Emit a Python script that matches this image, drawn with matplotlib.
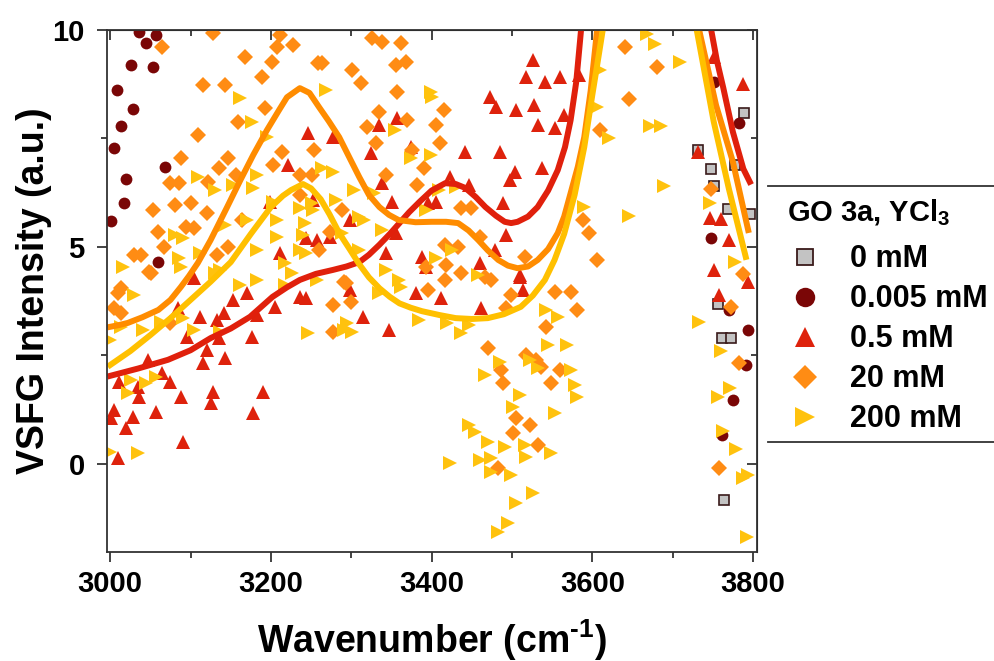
import matplotlib
matplotlib.use("Agg")
import matplotlib.pyplot as plt
from matplotlib.lines import Line2D

plt.rcParams["font.family"] = ["Liberation Sans", "DejaVu Sans"]
plt.rcParams["font.weight"] = "bold"
plt.rcParams["mathtext.fontset"] = "custom"
plt.rcParams["mathtext.rm"] = "Liberation Sans:bold"
plt.rcParams["mathtext.bf"] = "Liberation Sans:bold"

# ---- scatter data (wavenumber, intensity) ----
x_0mM = [3731, 3748, 3752, 3757, 3761, 3764, 3769, 3773, 3777, 3789, 3796]
y_0mM = [7.24, 6.80, 6.41, 3.69, 2.90, -0.83, 5.88, 2.90, 6.89, 8.09, 5.76]

x_005mM = [3036, 3057, 3044, 3026, 3053, 3009, 3028, 3014, 3005, 3068, 3020, 3017, 3001, 3060,
           3752, 3783, 3748, 3770, 3794, 3791, 3775, 3761]
y_005mM = [9.95, 9.88, 9.70, 9.19, 9.15, 8.62, 8.18, 7.79, 7.28, 6.84, 6.57, 6.01, 5.60, 4.65,
           8.80, 7.86, 5.21, 3.55, 3.09, 2.28, 1.47, 0.67]

x_05mM = [3246, 3221, 3199, 3244, 3211, 3104, 3526, 3517, 3541, 3560, 3584, 3473, 3480, 3505,
          3528, 3532, 3553, 3565, 3335, 3357, 3325, 3374, 3442, 3485, 3504, 3498, 3538, 3423,
          3446, 3338, 3405, 3396, 3351, 3489, 3493, 3356, 3343, 3388, 3460, 3479, 3510, 3277,
          3252, 3298, 3273, 3257, 3084, 3112, 3133, 3141, 3183, 3153, 3170, 3205, 3236, 3244,
          3298, 3096, 3135, 3177, 3121, 3143, 3116, 3065, 3047, 3011, 3035, 3075, 3036, 3088,
          3128, 3125, 3190, 3005, 3028, 3057, 3178, 3020, 3001, 3091, 3010, 3314, 3347, 3381,
          3412, 3462, 3514, 3510, 3393, 3788, 3752, 3732, 3746, 3760, 3752, 3758, 3794, 3770]
y_05mM = [7.63, 6.89, 6.04, 5.21, 4.86, 4.29, 9.31, 8.92, 8.80, 8.92, 8.96, 8.45, 8.22, 8.16,
          8.27, 7.81, 7.74, 8.04, 7.81, 7.97, 7.17, 7.30, 7.19, 7.19, 6.73, 6.54, 6.82, 6.61,
          6.43, 6.47, 6.04, 6.01, 6.04, 6.01, 5.28, 5.32, 4.86, 4.77, 4.63, 4.93, 4.31, 7.53,
          6.08, 5.62, 5.23, 5.16, 3.59, 3.39, 3.32, 3.48, 3.43, 3.78, 3.94, 3.62, 3.85, 3.82,
          4.01, 2.93, 2.90, 2.93, 2.63, 2.44, 2.33, 2.10, 2.40, 1.89, 1.77, 1.89, 1.54, 1.54,
          1.66, 1.40, 1.66, 1.24, 1.08, 1.20, 1.17, 0.83, 1.06, 0.51, 0.14, 3.39, 3.09, 3.94,
          3.82, 3.59, 4.01, 4.35, 4.54, 8.75, 9.38, 7.19, 5.67, 5.64, 4.47, 3.89, 4.19, 5.16]

x_20mM = [3128, 3211, 3207, 3227, 3065, 3168, 3201, 3189, 3116, 3143, 3258, 3193, 3159, 3109,
          3214, 3147, 3088, 3202, 3135, 3156, 3236, 3075, 3085, 3122, 3100, 3081, 3121, 3053,
          3164, 3059, 3094, 3104, 3067, 3146, 3030, 3038, 3133, 3048, 3014, 3010, 3051, 3005,
          3014, 3075, 3277, 3294, 3300, 3277, 3326, 3338, 3362, 3263, 3301, 3312, 3356, 3368,
          3357, 3335, 3415, 3320, 3369, 3405, 3254, 3331, 3411, 3376, 3390, 3343, 3382, 3251,
          3236, 3288, 3273, 3260, 3437, 3449, 3460, 3433, 3417, 3418, 3393, 3474, 3516, 3606,
          3609, 3596, 3588, 3291, 3396, 3417, 3436, 3467, 3553, 3573, 3581, 3542, 3499, 3493,
          3470, 3517, 3530, 3536, 3486, 3489, 3548, 3560, 3505, 3522, 3501, 3532, 3483, 3641,
          3680, 3646, 3748, 3788, 3773, 3783, 3758]
y_20mM = [9.93, 9.88, 9.61, 9.65, 9.61, 9.38, 9.26, 8.92, 8.73, 8.73, 9.24, 8.20, 7.88, 7.58,
          7.19, 7.05, 7.05, 6.89, 6.82, 6.66, 6.66, 6.47, 6.47, 6.50, 6.01, 5.97, 5.78, 5.85,
          5.62, 5.34, 5.46, 5.44, 5.00, 5.00, 4.81, 4.81, 4.81, 4.42, 4.05, 3.94, 4.40, 3.59,
          3.48, 3.25, 3.66, 4.17, 3.73, 3.04, 9.81, 9.72, 9.70, 9.24, 9.08, 8.78, 9.19, 9.26,
          8.57, 8.11, 8.16, 7.76, 7.93, 7.81, 7.23, 7.40, 7.40, 7.23, 6.82, 6.66, 6.43, 6.66,
          6.20, 5.85, 5.34, 4.93, 5.90, 5.90, 5.23, 5.00, 5.05, 4.58, 4.54, 4.24, 4.77, 4.70,
          7.70, 5.32, 5.62, 4.19, 4.01, 4.24, 4.40, 4.31, 3.96, 3.96, 3.55, 3.16, 3.89, 3.59,
          2.67, 2.51, 2.40, 2.23, 2.17, 1.87, 1.87, 2.17, 1.06, 0.90, 0.71, 0.44, -0.09, 9.61,
          9.15, 8.41, 6.34, 4.38, 3.62, 2.33, -0.09]

x_200mM = [3162, 3177, 3109, 3131, 3153, 3178, 3183, 3195, 3202, 3236, 3207, 3081, 3091, 3170,
           3143, 3207, 3240, 3183, 3236, 3085, 3112, 3016, 3131, 3217, 3226, 3244, 3251, 3088,
           3137, 3162, 3183, 3217, 3257, 3000, 3030, 3014, 3041, 3063, 3091, 3104, 3044, 3026,
           3057, 3022, 3000, 3035, 3137, 3246, 3291, 3295, 3269, 3399, 3400, 3355, 3399, 3374,
           3263, 3277, 3304, 3328, 3281, 3310, 3316, 3338, 3393, 3409, 3430, 3252, 3242, 3289,
           3310, 3343, 3359, 3405, 3425, 3458, 3610, 3621, 3590, 3606, 3362, 3335, 3384, 3419,
           3436, 3446, 3301, 3542, 3557, 3545, 3569, 3485, 3467, 3522, 3532, 3573, 3578, 3581,
           3510, 3501, 3553, 3446, 3454, 3470, 3491, 3516, 3517, 3548, 3423, 3460, 3474, 3474,
           3499, 3526, 3505, 3495, 3483, 3668, 3678, 3709, 3672, 3686, 3689, 3646, 3733, 3746,
           3777, 3771, 3757, 3763, 3779, 3788, 3792, 3794, 3760]
y_200mM = [8.43, 7.88, 6.61, 6.31, 6.43, 6.36, 6.66, 7.53, 6.04, 5.90, 5.62, 5.28, 5.21, 5.62,
           5.51, 5.23, 5.28, 4.93, 4.93, 4.75, 4.86, 4.54, 4.40, 4.63, 4.40, 4.86, 6.01, 4.54,
           4.47, 4.12, 4.24, 4.12, 4.24, 2.86, 3.89, 3.16, 3.09, 3.27, 3.36, 3.09, 1.87, 1.93,
           2.00, 1.64, 0.28, 0.25, 3.04, 3.02, 3.09, 3.25, 8.62, 8.57, 8.46, 7.70, 7.12, 7.05,
           6.82, 6.73, 6.31, 6.24, 6.08, 5.69, 5.62, 5.39, 5.85, 6.31, 6.38, 5.85, 5.55, 5.32,
           4.93, 4.47, 4.24, 4.75, 4.93, 4.35, 9.08, 7.51, 5.92, 8.22, 4.08, 3.94, 3.32, 3.25,
           3.02, 3.20, 3.04, 3.55, 3.39, 2.74, 2.74, 2.35, 2.05, 2.40, 2.21, 2.17, 1.82, 1.54,
           1.59, 1.31, 1.17, 0.90, 0.74, 0.51, 0.39, 0.44, 0.16, 0.25, 0.02, 0.09, 0.14, -0.18,
           -0.25, -0.67, -0.90, -1.36, -1.57, 9.91, 9.68, 9.26, 7.79, 7.79, 6.41, 5.71, 3.27, 6.01,
           4.65, 1.75, 1.54, 0.76, 0.35, -0.32, -1.68, -0.25, 2.60]

# ---- fitted curves (visible parts only; they leave the top of the frame) ----
fit_05_left_x = [3000, 3035, 3072, 3100, 3125, 3150, 3174, 3202, 3220, 3236, 3256, 3277, 3294,
                 3310, 3322, 3335, 3348, 3360, 3372, 3385, 3400, 3417, 3430, 3442, 3455, 3467,
                 3480, 3491, 3499, 3507, 3520, 3532, 3545, 3557, 3566, 3573, 3580, 3586]
fit_05_left_y = [2.03, 2.20, 2.40, 2.62, 2.90, 3.12, 3.39, 3.85, 4.07, 4.24, 4.38, 4.47, 4.55,
                 4.65, 4.82, 5.05, 5.30, 5.55, 5.80, 6.04, 6.30, 6.47, 6.45, 6.36, 6.15, 5.92,
                 5.72, 5.58, 5.55, 5.58, 5.70, 5.92, 6.30, 6.77, 7.30, 7.92, 8.80, 10.0]
fit_05_right_x = [3748, 3755, 3763, 3775, 3788, 3796]
fit_05_right_y = [10.0, 9.30, 8.67, 7.65, 6.80, 6.50]

fit_20_left_x = [3000, 3011, 3022, 3040, 3060, 3075, 3088, 3098, 3109, 3125, 3145, 3162, 3178,
                 3195, 3210, 3220, 3236, 3248, 3260, 3272, 3285, 3298, 3310, 3322, 3335, 3347,
                 3359, 3380, 3400, 3418, 3433, 3446, 3458, 3470, 3483, 3495, 3507, 3520, 3532,
                 3545, 3557, 3565, 3573, 3582, 3590, 3598, 3606]
fit_20_left_y = [3.16, 3.20, 3.25, 3.38, 3.55, 3.78, 4.08, 4.33, 4.63, 5.16, 5.90, 6.54, 7.12,
                 7.69, 8.15, 8.45, 8.66, 8.55, 8.22, 7.90, 7.53, 7.05, 6.61, 6.20, 5.92, 5.74,
                 5.62, 5.57, 5.58, 5.58, 5.55, 5.38, 5.16, 4.92, 4.70, 4.57, 4.51, 4.55, 4.70,
                 4.95, 5.32, 5.70, 6.24, 6.85, 7.53, 8.60, 10.0]
fit_20_right_x = [3733, 3754, 3775, 3794]
fit_20_right_y = [10.0, 8.27, 6.96, 5.39]

fit_200_left_x = [3000, 3025, 3050, 3075, 3100, 3125, 3150, 3175, 3200, 3215, 3225, 3240, 3250,
                  3262, 3273, 3285, 3298, 3310, 3322, 3335, 3348, 3360, 3374, 3388, 3410, 3430,
                  3450, 3470, 3490, 3511, 3526, 3541, 3553, 3565, 3578, 3590, 3600, 3607, 3613]
fit_200_left_y = [2.28, 2.60, 2.97, 3.36, 3.78, 4.20, 4.65, 5.30, 5.92, 6.18, 6.31, 6.45, 6.35,
                  6.10, 5.75, 5.32, 4.95, 4.60, 4.30, 4.05, 3.85, 3.70, 3.60, 3.52, 3.43, 3.36,
                  3.34, 3.36, 3.45, 3.62, 3.88, 4.24, 4.70, 5.30, 6.20, 7.30, 8.50, 9.30, 10.0]
fit_200_right_x = [3730, 3751, 3770, 3791]
fit_200_right_y = [10.0, 7.90, 6.34, 4.77]

labels = ["0 mM", "0.005 mM", "0.5 mM", "20 mM", "200 mM"]
colors = ["#c3c3c3", "#7a0606", "#de220c", "#ff8c14", "#ffc20e"]
markers = ["s", "o", "^", "D", ">"]

fig = plt.figure(figsize=(9.95, 6.61), dpi=100)
ax = fig.add_axes([107 / 995, 1 - 552 / 661, 650 / 995, 522 / 661])

series = [(x_0mM, y_0mM), (x_005mM, y_005mM), (x_05mM, y_05mM),
          (x_20mM, y_20mM), (x_200mM, y_200mM)]
for i, (xs, ys) in enumerate(series):
    if markers[i] == "s":
        ax.plot(xs, ys, ls="none", marker="s", ms=7.5, mfc=colors[i],
                mec="#3a1a1a", mew=1.2)
    else:
        ms = {"o": 8.5, "^": 10, "D": 8.5, ">": 10}[markers[i]]
        ax.plot(xs, ys, ls="none", marker=markers[i], ms=ms, mfc=colors[i],
                mec=colors[i], mew=0)

fits = [(fit_05_left_x, fit_05_left_y, fit_05_right_x, fit_05_right_y, "#e0200c"),
        (fit_20_left_x, fit_20_left_y, fit_20_right_x, fit_20_right_y, "#ff8c00"),
        (fit_200_left_x, fit_200_left_y, fit_200_right_x, fit_200_right_y, "#ffc000")]
for lx, ly, rx, ry, c in fits:
    ax.plot(lx, ly, color=c, lw=4.3, solid_joinstyle="round")
    ax.plot(rx, ry, color=c, lw=4.3, solid_joinstyle="round")

ax.set_xlim(2996, 3805)
ax.set_ylim(-2.03, 10)
ax.set_xticks([3000, 3200, 3400, 3600, 3800])
ax.set_xticks([3100, 3300, 3500, 3700], minor=True)
ax.set_yticks([0, 5, 10])
ax.set_yticks([2.5, 7.5], minor=True)
ax.tick_params(which="both", direction="out", width=1.2, labelsize=21, colors="#222222")
ax.tick_params(which="major", length=7)
ax.tick_params(which="minor", length=4)
ax.tick_params(axis="y", pad=9)
ax.tick_params(axis="x", pad=6)
for lab in ax.get_xticklabels() + ax.get_yticklabels():
    lab.set_fontweight("bold")
    lab.set_color("black")
for sp in ax.spines.values():
    sp.set_linewidth(1.3)
    sp.set_color("#333333")

top = ax.secondary_xaxis("top")
top.set_xticks([3000, 3200, 3400, 3600, 3800])
top.set_xticks([3100, 3300, 3500, 3700], minor=True)
top.tick_params(which="both", direction="in", width=1.2, labeltop=False, colors="#222222")
top.tick_params(which="major", length=7)
top.tick_params(which="minor", length=4)
right = ax.secondary_yaxis("right")
right.set_yticks([0, 5, 10])
right.set_yticks([2.5, 7.5], minor=True)
right.tick_params(which="both", direction="in", width=1.2, labelright=False, colors="#222222")
right.tick_params(which="major", length=7)
right.tick_params(which="minor", length=4)

ax.set_xlabel(r"Wavenumber (cm$^{\text{-1}}$)", fontsize=27, fontweight="bold")
ax.set_ylabel("VSFG Intensity (a.u.)", fontsize=27, fontweight="bold")
ax.xaxis.set_label_coords(0.5, -0.125)
ax.yaxis.set_label_coords(-0.085, 0.5)

# legend drawn by hand in figure pixels (top-left origin)
W, H = 995, 661
def fx(px):
    return px / W
def fy(py):
    return 1 - py / H

for py in (186, 442):
    fig.add_artist(Line2D([fx(768), fx(995)], [fy(py), fy(py)], color="#333333", lw=1.3,
                          transform=fig.transFigure))
fig.text(fx(787), fy(221), r"GO 3a, YCl$_{\mathbf{3}}$", fontsize=21, fontweight="bold",
         va="baseline", ha="left")
rows = [257, 297, 337, 377, 417]
for i, lab in enumerate(labels):
    if markers[i] == "s":
        kw = dict(marker="s", ms=12, mfc=colors[i], mec="#3a1a1a", mew=1.3)
    else:
        kw = dict(marker=markers[i], ms=14 if markers[i] != "D" else 12,
                  mfc=colors[i], mec=colors[i], mew=0)
    fig.add_artist(Line2D([fx(805)], [fy(rows[i])], ls="none", transform=fig.transFigure, **kw))
    fig.text(fx(850), fy(rows[i] + 10), lab, fontsize=22, fontweight="bold",
             va="baseline", ha="left")

fig.savefig("out.png", dpi=100)
